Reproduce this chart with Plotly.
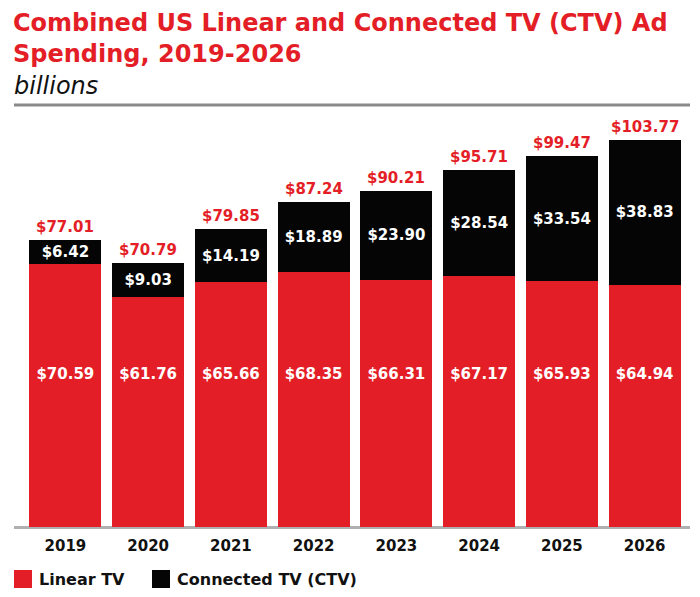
import plotly.graph_objects as go

years = ["2019", "2020", "2021", "2022", "2023", "2024", "2025", "2026"]
linear_tv = [70.59, 61.76, 65.66, 68.35, 66.31, 67.17, 65.93, 64.94]
ctv = [6.42, 9.03, 14.19, 18.89, 23.90, 28.54, 33.54, 38.83]
totals = [77.01, 70.79, 79.85, 87.24, 90.21, 95.71, 99.47, 103.77]
series_names = ["Linear TV", "Connected TV (CTV)"]

RED = "#E41E26"
BLACK = "#050505"
FONT = "DejaVu Sans"
LINEAR_LABEL_Y = 40.7  # label height (in value units) for Linear TV labels

# the page puts the figure 8px from the top-left corner
OFF = 8
W, H = 692, 589
ML, MR, MT, MB = 16, 14, 97, 70
PW, PH = W - ML - MR, H - MT - MB


def px(x):  # page pixel -> paper
    return (x - OFF - ML) / PW


def py(y):
    return (H - MB - (y - OFF)) / PH


fig = go.Figure()
fig.add_trace(go.Bar(
    x=years, y=linear_tv, name=series_names[0], marker_color=RED,
    marker_line_width=0, showlegend=False,
))
fig.add_trace(go.Bar(
    x=years, y=ctv, name=series_names[1], marker_color=BLACK, marker_line_width=0,
    text=[f"${v:.2f}" for v in ctv], textposition="inside",
    insidetextanchor="middle", showlegend=False,
    textfont=dict(color="white", size=15, family=FONT, weight="bold"),
))
fig.add_trace(go.Scatter(
    x=years, y=[LINEAR_LABEL_Y] * len(years), mode="text",
    text=[f"${v:.2f}" for v in linear_tv], textposition="middle center",
    textfont=dict(color="white", size=15, family=FONT, weight="bold"),
    showlegend=False, hoverinfo="skip",
))

annotations = [
    dict(text="<b>Combined US Linear and Connected TV (CTV) Ad<br>Spending, 2019-2026</b>",
         xref="paper", yref="paper", x=px(12), y=py(8), xanchor="left", yanchor="top",
         align="left", showarrow=False, borderpad=0,
         font=dict(size=24, color=RED, family=FONT)),
    dict(text="<i>billions</i>", xref="paper", yref="paper", x=px(12), y=py(70),
         xanchor="left", yanchor="top", align="left", showarrow=False,
         font=dict(size=24, color="#111", family=FONT)),
]
for i, t in enumerate(totals):
    annotations.append(dict(x=i, y=t, xref="x", yref="y", text=f"${t:.2f}",
                            showarrow=False, yanchor="bottom", yshift=2,
                            font=dict(color=RED, size=15, family=FONT, weight="bold")))

shapes = [
    dict(type="line", xref="paper", yref="paper", x0=px(14), x1=px(690), y0=py(105), y1=py(105),
         line=dict(color="#8a8a8a", width=3), layer="below"),
    dict(type="line", xref="paper", yref="paper", x0=px(14), x1=px(690), y0=py(527.5), y1=py(527.5),
         line=dict(color="#b0b0b0", width=3), layer="below"),
]
legend_items = [(series_names[0], RED, 14), (series_names[1], BLACK, 152)]
for name, col, x0 in legend_items:
    shapes.append(dict(type="rect", xref="paper", yref="paper", x0=px(x0), x1=px(x0 + 18),
                       y0=py(588), y1=py(570), fillcolor=col, line=dict(width=0)))
    annotations.append(dict(text=name, xref="paper", yref="paper", x=px(x0 + 23), y=py(579),
                            xanchor="left", yanchor="middle", showarrow=False,
                            font=dict(size=16, color="#111", family=FONT, weight="bold")))

fig.update_layout(
    width=W, height=H,
    barmode="stack", bargap=0.13,
    uniformtext=dict(minsize=15, mode="show"),
    plot_bgcolor="white", paper_bgcolor="white",
    margin=dict(l=ML, r=MR, t=MT, b=MB, autoexpand=False),
    font=dict(family=FONT, color="#111"),
    showlegend=False,
    xaxis=dict(type="category", showgrid=False, showline=False, ticks="", ticklabelstandoff=8,
               range=[-0.5, len(years) - 0.5],
               tickfont=dict(size=15, family=FONT, weight="bold", color="#111")),
    yaxis=dict(range=[0, PH / 3.73], visible=False, fixedrange=True),
    annotations=annotations,
    shapes=shapes,
)

fig.write_html("out.html")
